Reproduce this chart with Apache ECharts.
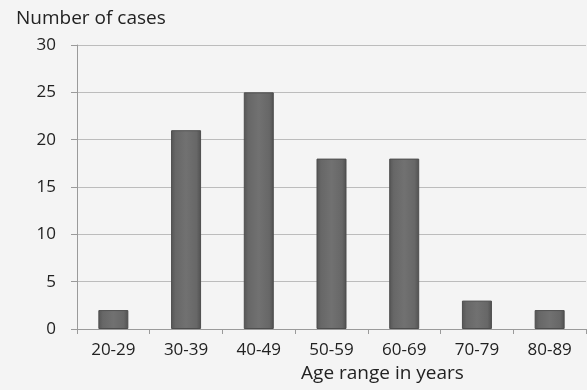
<!DOCTYPE html>
<html><head><meta charset="utf-8">
<script src="https://cdn.jsdelivr.net/npm/echarts@6/dist/echarts.min.js"></script>
<style>html,body{margin:0;padding:0;background:#f4f4f4}#c{width:587px;height:390px}</style>
</head><body><div id="c"></div>
<script>
var categories = ['20-29','30-39','40-49','50-59','60-69','70-79','80-89'];
var cases = [2, 21, 25, 18, 18, 3, 2];
var yTicks = [0, 5, 10, 15, 20, 25, 30];

var chart = echarts.init(document.getElementById('c'), null, {renderer: 'canvas'});
var font = '"Open Sans", "DejaVu Sans", sans-serif';
chart.setOption({
  backgroundColor: '#f4f4f4',
  animation: false,
  title: {text: 'Number of cases', left: 11, top: 4,
    textStyle: {fontFamily: font, fontSize: 19, fontWeight: 'normal', color: '#222222'}},
  grid: {left: 77, right: 1, top: 45, bottom: 61, containLabel: false},
  xAxis: {
    type: 'category', data: categories,
    name: 'Age range in years', nameLocation: 'middle', nameGap: 35,
    nameTextStyle: {fontFamily: font, fontSize: 19, color: '#222222', padding: [0, 0, 0, 102]},
    axisLine: {lineStyle: {color: '#9a9a9a', width: 1}},
    axisTick: {show: true, inside: false, length: 5, lineStyle: {color: '#9a9a9a'}},
    axisLabel: {fontFamily: font, fontSize: 17, color: '#222222', margin: 13},
    splitLine: {show: false}
  },
  yAxis: {
    type: 'value', min: yTicks[0], max: yTicks[yTicks.length-1], interval: 5,
    axisLine: {show: true, lineStyle: {color: '#9a9a9a', width: 1}},
    axisTick: {show: true, length: 6, lineStyle: {color: '#9a9a9a'}},
    axisLabel: {fontFamily: font, fontSize: 17, color: '#222222', margin: 21},
    splitLine: {lineStyle: {color: '#bcbcbc', width: 1}}
  },
  series: [{
    type: 'bar', data: cases, barWidth: 30,
    itemStyle: {
      color: new echarts.graphic.LinearGradient(0, 0, 1, 0, [
        {offset: 0, color: '#555555'},
        {offset: 0.15, color: '#676767'},
        {offset: 0.5, color: '#717171'},
        {offset: 0.85, color: '#676767'},
        {offset: 1, color: '#505050'}
      ]),
      borderColor: '#4d4d4d', borderWidth: 1
    }
  }]
});
</script></body></html>
